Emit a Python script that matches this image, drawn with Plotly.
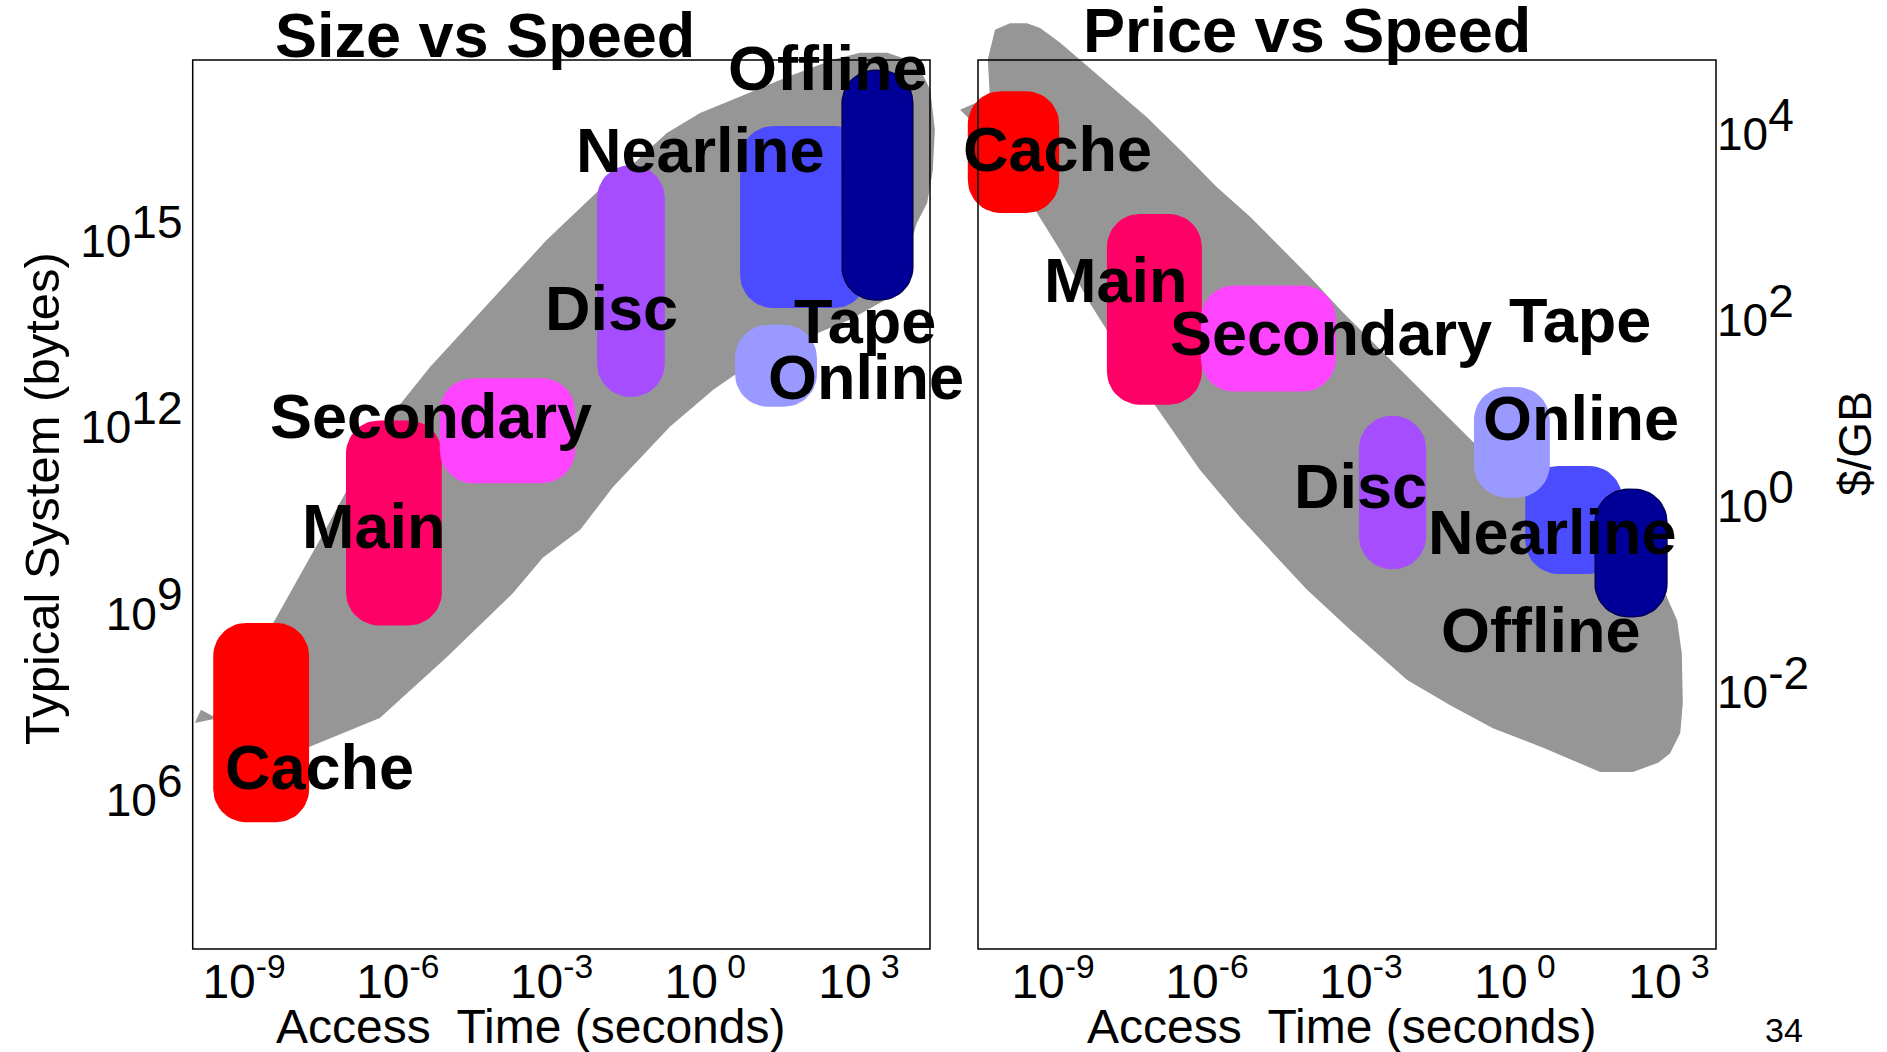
import numpy as np
import plotly.graph_objects as go

W, H = 1887, 1052
FONT = "Arial, 'Liberation Sans', Helvetica, sans-serif"

# ---------------- data (log10 units) ----------------
tiers = ["Cache", "Main", "Secondary", "Disc", "Nearline", "Online", "Offline"]
tier_colors = ["#FF0000", "#FF0066", "#FF44FF", "#A64DFF", "#4B4BFF", "#9999FF", "#000099"]

# Size vs Speed: log10(access time, s) and log10(typical system size, bytes)
size_t_lo = [-9.60, -7.01, -5.18, -2.11, 0.68, 0.58, 2.67]
size_t_hi = [-7.73, -5.14, -2.54, -0.79, 3.16, 2.18, 4.05]
size_b_lo = [5.64, 8.81, 11.10, 12.49, 13.92, 12.33, 14.05]
size_b_hi = [8.85, 12.11, 12.79, 16.22, 16.85, 13.65, 17.75]

# Price vs Speed: log10(access time, s) and log10($/GB)
price_t_lo = [-10.66, -7.95, -6.12, -3.04, 0.20, -0.80, 1.56]
price_t_hi = [-8.88, -6.10, -3.49, -1.73, 2.09, 0.68, 2.96]
price_p_lo = [3.15, 1.09, 1.23, -0.68, -0.73, 0.09, -1.19]
price_p_hi = [4.46, 3.14, 2.37, 0.97, 0.43, 1.28, 0.18]

# grey trend bands
size_band_t = [-9.96, -9.61, -8.69, -7.73, -6.35, -5.04, -3.75, -3.17, -2.44, -1.80, -0.69, 0.15, 0.62,
               1.65, 2.82, 3.51, 3.90, 4.13, 4.33, 4.44, 4.48, 4.39, 4.13, 3.55, 3.02, 2.49, 1.60, 0.68,
               -0.10, -0.75, -1.47, -2.11, -3.09, -3.87, -4.73, -5.37, -6.09, -6.99, -7.52, -8.10, -8.43,
               -9.61, -9.84]
size_band_b = [7.24, 7.30, 6.97, 6.85, 7.32, 8.30, 9.33, 9.90, 10.35, 11.04, 12.01, 12.60, 12.87,
               13.33, 13.73, 14.05, 14.69, 15.29, 15.61, 16.14, 16.79, 17.43, 17.87, 18.03, 18.03, 17.92, 17.64, 17.32,
               17.06, 16.74, 16.19, 15.79, 15.02, 14.32, 13.54, 12.97, 12.23, 10.99, 10.19, 9.33, 8.85,
               7.35, 7.45]
price_band_t = [-10.13, -9.84, -9.51, -9.25, -8.86, -8.08, -7.17, -6.47, -5.81, -5.16, -4.52, -3.99, -3.35,
                -2.57, -1.71, -0.82, 0.29, 1.66, 2.63, 2.96, 3.16, 3.25, 3.27, 3.22, 3.02, 2.79, 2.30, 1.66,
                0.55, -0.43, -1.27, -2.10, -3.21, -4.05, -4.71, -5.36, -6.14, -7.11, -7.95, -8.28, -8.86,
                -9.39, -10.03, -10.66, -10.81, -10.23, -10.27]
price_band_p = [5.12, 5.19, 5.19, 5.14, 4.98, 4.61, 4.18, 3.80, 3.43, 3.11, 2.75, 2.46, 2.08,
                1.65, 1.17, 0.69, 0.28, 0.01, -0.37, -0.98, -1.23, -1.58, -2.12, -2.44, -2.66, -2.76, -2.86, -2.86,
                -2.60, -2.39, -2.14, -1.87, -1.33, -0.90, -0.51, -0.12, 0.39, 1.16, 1.89, 2.18, 2.75,
                3.22, 3.83, 4.18, 4.26, 4.40, 4.80]

# labels
size_labels = ["Cache", "Main", "Secondary", "Disc", "Nearline", "Offline", "Tape", "Online"]
size_label_t = [-7.52, -6.47, -5.35, -1.82, -0.10, 2.39, 3.12, 3.14]
size_label_b = [6.53, 10.41, 12.18, 13.92, 16.47, 17.79, 13.71, 12.81]
price_labels = ["Cache", "Main", "Secondary", "Tape", "Online", "Disc", "Nearline", "Offline"]
price_label_t = [-8.92, -7.77, -3.58, 1.27, 1.29, -3.00, 0.74, 0.51]
price_label_p = [3.84, 2.43, 1.86, 2.00, 0.95, 0.22, -0.28, -1.33]

x_tickvals = [-9, -6, -3, 0, 3]
x_ticktext = ["10<sup>-9</sup>", "10<sup>-6</sup>", "10<sup>-3</sup>", "10<sup>\u00a00</sup>", "10<sup>\u00a03</sup>"]
size_tickvals = [6, 9, 12, 15]
price_tickvals = [-2, 0, 2, 4]

YTICK_FS = 46


def sup_big(v, fs):
    return '10<sup><span style="font-size:%dpx">%d</span></sup>' % (fs, v)


# ---------------- geometry (pixels) ----------------
panels = {
    "size": dict(xa="x", ya="y", dom=(150, 950), xref=(-9, 244.0), sx=51.25, yref=(15, 241.0), sy=62.1),
    "price": dict(xa="x2", ya="y2", dom=(950, 1800), xref=(-9, 1053.0), sx=51.33, yref=(4, 134.0), sy=93.0),
}
for p in panels.values():
    v0, p0 = p["xref"]
    p["xrange"] = [v0 + (p["dom"][0] - p0) / p["sx"], v0 + (p["dom"][1] - p0) / p["sx"]]
    v0, p0 = p["yref"]
    p["yrange"] = [v0 - (H - p0) / p["sy"], v0 + p0 / p["sy"]]


def capsule(x0, x1, y0, y1, r_px, sx, sy, n=14):
    r = min(r_px, (x1 - x0) * sx / 2, (y1 - y0) * sy / 2)
    rx, ry = r / sx, r / sy
    corners = [(x1 - rx, y1 - ry, 0, 90), (x0 + rx, y1 - ry, 90, 180),
               (x0 + rx, y0 + ry, 180, 270), (x1 - rx, y0 + ry, 270, 360)]
    xs, ys = [], []
    for cx, cy, a0, a1 in corners:
        t = np.radians(np.linspace(a0, a1, n))
        xs += list(cx + rx * np.cos(t))
        ys += list(cy + ry * np.sin(t))
    xs.append(xs[0])
    ys.append(ys[0])
    return xs, ys


fig = go.Figure()
BAND = "#969696"

for key, bt, bv, tlo, thi, vlo, vhi in [
    ("size", size_band_t, size_band_b, size_t_lo, size_t_hi, size_b_lo, size_b_hi),
    ("price", price_band_t, price_band_p, price_t_lo, price_t_hi, price_p_lo, price_p_hi),
]:
    p = panels[key]
    fig.add_trace(go.Scatter(x=bt + [bt[0]], y=bv + [bv[0]], fill="toself", fillcolor=BAND, mode="lines",
                             line=dict(width=0, color=BAND), hoverinfo="skip",
                             xaxis=p["xa"], yaxis=p["ya"]))
    for i, name in enumerate(tiers):
        xs, ys = capsule(tlo[i], thi[i], vlo[i], vhi[i], 33, p["sx"], p["sy"])
        c = tier_colors[i]
        lw = 1.5 if name == "Offline" else 0
        lc = "#00005A" if name == "Offline" else c
        fig.add_trace(go.Scatter(x=xs, y=ys, fill="toself", fillcolor=c, mode="lines",
                                 line=dict(width=lw, color=lc), hoverinfo="skip", name=name,
                                 xaxis=p["xa"], yaxis=p["ya"]))

annotations = []
for key, labs, lx, ly in [("size", size_labels, size_label_t, size_label_b),
                          ("price", price_labels, price_label_t, price_label_p)]:
    p = panels[key]
    for t, x, y in zip(labs, lx, ly):
        annotations.append(dict(text=t, x=x, y=y, xref=p["xa"], yref=p["ya"], showarrow=False,
                                xanchor="center", yanchor="middle",
                                font=dict(family=FONT, size=63, color="black", weight="bold")))


def paper_ann(text, px, py, size, bold=False, angle=0):
    f = dict(family=FONT, size=size, color="black")
    if bold:
        f["weight"] = "bold"
    return dict(text=text, x=px / W, y=1 - py / H, xref="paper", yref="paper", showarrow=False,
                xanchor="center", yanchor="middle", textangle=angle, font=f)


annotations += [
    paper_ann("Size vs Speed", 485, 35, 63, bold=True),
    paper_ann("Price vs Speed", 1307, 30, 63, bold=True),
    paper_ann("Access\u00a0 Time (seconds)", 530, 1026, 48),
    paper_ann("Access\u00a0 Time (seconds)", 1341, 1026, 48),
    paper_ann("Typical System (bytes)", 42, 499, 49, angle=-90),
    paper_ann("$/GB", 1855, 444, 46, angle=-90),
    paper_ann("34", 1784, 1030, 34),
]

FRAME_T, FRAME_B = 60, 949
frames = [(192.7, 930), (978, 1716)]
shapes = [dict(type="rect", xref="paper", yref="paper", x0=a / W, x1=b / W, y0=1 - FRAME_B / H, y1=1 - FRAME_T / H,
               line=dict(color="black", width=1.5), fillcolor="rgba(0,0,0,0)", layer="above")
          for a, b in frames]

common_x = dict(showgrid=False, zeroline=False, showline=False, anchor="free", position=1 - FRAME_B / H,
                tickmode="array", tickvals=x_tickvals, ticktext=x_ticktext, ticks="",
                tickfont=dict(family=FONT, size=48, color="black"), fixedrange=True)
common_y = dict(showgrid=False, zeroline=False, showline=False, anchor="free", tickmode="array",
                tickcolor="rgba(0,0,0,0)", tickfont=dict(family=FONT, size=YTICK_FS, color="black"),
                fixedrange=True)

fig.update_layout(
    width=W, height=H, margin=dict(l=0, r=0, t=0, b=0), paper_bgcolor="white", plot_bgcolor="rgba(0,0,0,0)",
    showlegend=False, annotations=annotations, shapes=shapes,
    xaxis=dict(domain=[panels["size"]["dom"][0] / W, panels["size"]["dom"][1] / W],
               range=panels["size"]["xrange"], **common_x),
    xaxis2=dict(domain=[panels["price"]["dom"][0] / W, panels["price"]["dom"][1] / W],
                range=panels["price"]["xrange"], **common_x),
    yaxis=dict(domain=[0, 1], range=panels["size"]["yrange"], position=frames[0][0] / W, side="left",
               tickvals=size_tickvals, ticktext=[sup_big(v, YTICK_FS) for v in size_tickvals],
               ticks="outside", ticklen=1, **common_y),
    yaxis2=dict(domain=[0, 1], range=panels["price"]["yrange"], position=frames[1][1] / W, side="right",
                tickvals=price_tickvals, ticktext=[sup_big(v, YTICK_FS) for v in price_tickvals],
                ticks="", **common_y),
)

fig.write_html("out.html", config={"displayModeBar": False},
               post_script="document.body.style.margin='0';")
